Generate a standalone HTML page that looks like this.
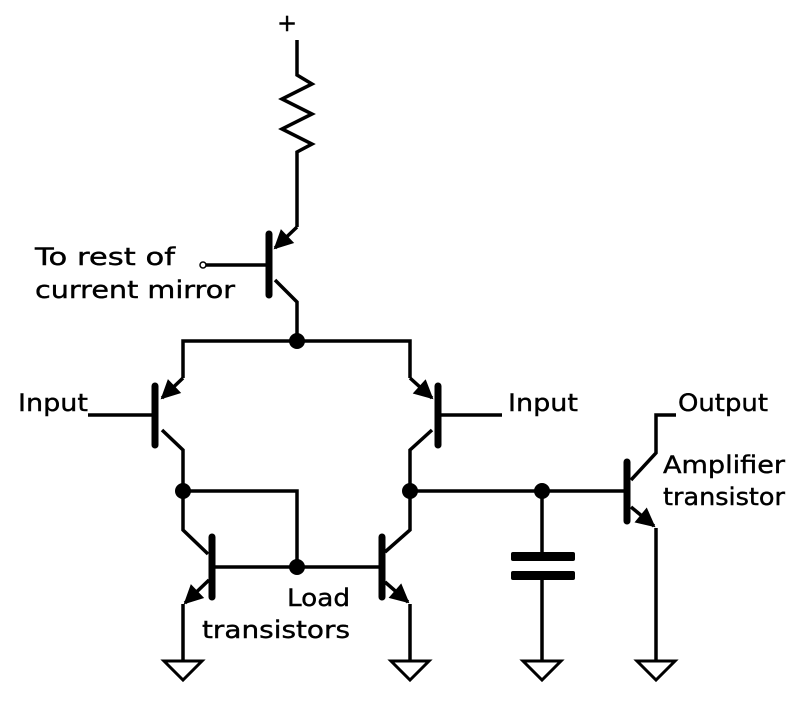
<!DOCTYPE html>
<html><head><style>
body{margin:0;background:#fff}
svg{display:block}
text{font-family:"DejaVu Sans","Liberation Sans",sans-serif;font-size:24px;fill:#000;stroke:#000;stroke-width:0.4}
</style></head><body>
<svg width="800" height="706" viewBox="0 0 800 706" xmlns="http://www.w3.org/2000/svg">
<defs>
<marker id="a" viewBox="0 0 10 10" refX="9" refY="5" markerWidth="6" markerHeight="5.5" orient="auto" markerUnits="strokeWidth"><path d="M0,0L10,5L0,10z" fill="#000"/></marker>
</defs>
<g stroke="#000" stroke-width="3.5" fill="none" stroke-linejoin="miter">
<path d="M297,40V75L312,84L282,99L312,114L282,129L312,144L297,152V227"/>
<path d="M297,227L275,248" marker-end="url(#a)"/>
<path d="M275,280L297,302V341"/>
<line x1="204" y1="265" x2="269" y2="265"/>
<line x1="269" y1="234" x2="269" y2="295" stroke-width="7" stroke-linecap="round"/>
<path d="M183,378V341H410V378"/>
<path d="M183,378L162,398" marker-end="url(#a)"/>
<path d="M162,430L183,450V530L208,554"/>
<line x1="88" y1="415" x2="155" y2="415"/>
<line x1="155" y1="386" x2="155" y2="445" stroke-width="7" stroke-linecap="round"/>
<path d="M410,378L432,398" marker-end="url(#a)"/>
<path d="M432,430L410,450V530L385,552"/>
<line x1="438" y1="415" x2="502" y2="415"/>
<line x1="438" y1="386" x2="438" y2="445" stroke-width="7" stroke-linecap="round"/>
<path d="M183,491H297V567"/>
<line x1="212" y1="567" x2="382" y2="567"/>
<line x1="212" y1="537" x2="212" y2="597" stroke-width="7" stroke-linecap="round"/>
<path d="M209,580L185,603" marker-end="url(#a)"/>
<path d="M183,604V661"/>
<line x1="382" y1="537" x2="382" y2="597" stroke-width="7" stroke-linecap="round"/>
<path d="M385,582L408,602" marker-end="url(#a)"/>
<path d="M410,604V661"/>
<line x1="410" y1="491" x2="627" y2="491"/>
<path d="M542,491V553M542,579V661"/>
<line x1="627" y1="462" x2="627" y2="521" stroke-width="7" stroke-linecap="round"/>
<path d="M631,480L656,453V415H676"/>
<path d="M631,507L654,526" marker-end="url(#a)"/>
<path d="M656,528V661"/>
<path d="M164,661H202L183,680Z M391,661H429L410,680Z M523,661H561L542,680Z M637,661H675L656,680Z" stroke-width="3"/>
</g>
<rect x="511" y="552" width="64" height="9" rx="2" fill="#000"/>
<rect x="511" y="571" width="64" height="9" rx="2" fill="#000"/>
<circle cx="203" cy="265" r="3" fill="#fff" stroke="#000" stroke-width="1.5"/>
<g fill="#000">
<circle cx="297" cy="341" r="8"/><circle cx="183" cy="491" r="8"/><circle cx="410" cy="491" r="8"/>
<circle cx="297" cy="567" r="8"/><circle cx="542" cy="491" r="8"/>
</g>
<text x="277" y="31">+</text>
<text x="35" y="265" textLength="140" lengthAdjust="spacingAndGlyphs">To rest of</text>
<text x="35" y="298" textLength="200" lengthAdjust="spacingAndGlyphs">current mirror</text>
<text x="18" y="411" textLength="70" lengthAdjust="spacingAndGlyphs">Input</text>
<text x="508" y="411" textLength="70" lengthAdjust="spacingAndGlyphs">Input</text>
<text x="678" y="411" textLength="90" lengthAdjust="spacingAndGlyphs">Output</text>
<text x="663" y="473" textLength="122" lengthAdjust="spacingAndGlyphs">Amplifier</text>
<text x="663" y="505" textLength="122" lengthAdjust="spacingAndGlyphs">transistor</text>
<text x="287" y="606" textLength="63" lengthAdjust="spacingAndGlyphs">Load</text>
<text x="202" y="638" textLength="148" lengthAdjust="spacingAndGlyphs">transistors</text>
</svg>
</body></html>
